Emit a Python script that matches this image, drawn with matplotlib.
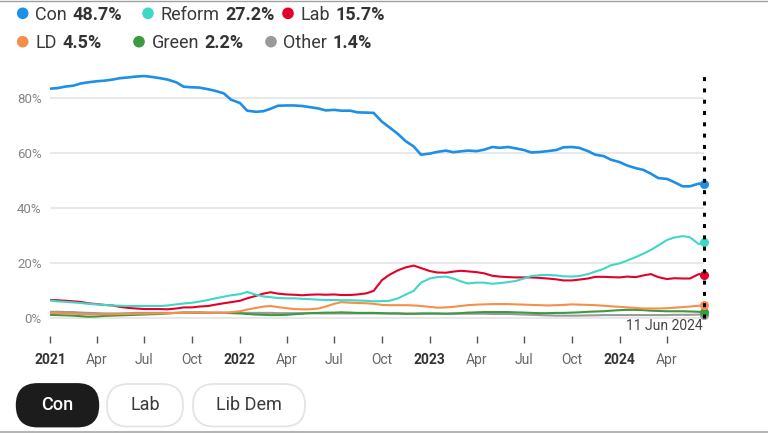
import matplotlib
matplotlib.use("Agg")
import matplotlib.pyplot as plt
from matplotlib.patches import FancyBboxPatch
import pandas as pd

plt.rcParams['font.family'] = ['Roboto', 'DejaVu Sans']

# ---------------- data ----------------
dates = list(pd.date_range('2021-01-01', '2024-06-01', freq='SMS')) + [pd.Timestamp('2024-06-11')]

con = [83.5, 83.7, 84.3, 84.6, 85.4, 85.8, 86.2, 86.4, 86.8, 87.3, 87.6, 87.9, 88.1, 87.8, 87.3, 86.8,
       85.8, 84.2, 84.0, 83.9, 83.3, 82.7, 81.8, 79.5, 78.3, 75.5, 75.1, 75.3, 76.2, 77.3, 77.4, 77.4,
       77.2, 76.8, 76.3, 75.6, 75.8, 75.5, 75.5, 74.9, 74.8, 74.7, 71.5, 69.5, 67.0, 64.5, 62.5, 59.5,
       59.9, 60.5, 61.0, 60.4, 60.7, 61.0, 60.8, 61.3, 62.3, 62.0, 62.3, 61.8, 61.2, 60.3, 60.5, 60.8,
       61.2, 62.2, 62.3, 62.0, 60.8, 59.5, 59.0, 57.7, 56.8, 55.6, 54.6, 54.0, 52.6, 51.0, 50.7, 49.5,
       48.0, 48.0, 49.0, 48.7]
lab = [6.7, 6.6, 6.4, 6.2, 6.0, 5.5, 5.2, 4.9, 4.7, 4.2, 3.8, 3.6, 3.4, 3.4, 3.4, 3.3,
       3.6, 4.0, 4.0, 4.3, 4.5, 5.0, 5.5, 5.9, 6.4, 7.3, 8.2, 9.0, 9.5, 9.0, 8.7, 8.6,
       8.4, 8.6, 8.7, 8.6, 8.7, 8.5, 8.5, 8.7, 9.1, 10.0, 13.9, 15.8, 17.5, 18.5, 19.2, 18.3,
       17.2, 16.7, 16.6, 17.0, 17.3, 17.1, 16.8, 16.4, 15.5, 15.2, 15.0, 14.9, 14.9, 14.9, 14.7, 14.5,
       14.2, 13.8, 13.8, 14.1, 14.5, 15.1, 15.1, 15.0, 14.9, 15.2, 15.0, 15.6, 16.1, 15.0, 14.3, 14.6,
       14.5, 14.5, 16.1, 15.7]
reform = [6.5, 6.2, 6.0, 5.8, 5.6, 5.3, 5.1, 4.9, 4.7, 4.6, 4.5, 4.5, 4.5, 4.5, 4.5, 4.7,
          5.1, 5.4, 5.7, 6.1, 6.7, 7.3, 7.9, 8.4, 8.8, 9.6, 8.6, 8.0, 7.7, 7.4, 7.3, 7.3,
          7.1, 7.0, 6.8, 6.7, 6.7, 6.6, 6.6, 6.5, 6.4, 6.2, 6.3, 6.4, 7.3, 8.6, 10.0, 13.0,
          14.5, 15.0, 15.2, 14.5, 13.5, 12.7, 13.0, 13.0, 12.6, 12.8, 13.2, 13.6, 14.5, 15.4, 15.7, 15.8,
          15.6, 15.3, 15.2, 15.4, 16.1, 17.0, 18.0, 19.3, 20.0, 21.0, 22.3, 23.5, 24.9, 26.5, 28.5, 29.4,
          29.9, 29.5, 27.0, 27.8]
ld = [2.0, 1.9, 1.8, 1.7, 1.6, 1.5, 1.5, 1.5, 1.5, 1.6, 1.6, 1.7, 1.7, 1.8, 1.8, 1.9,
      2.0, 2.0, 2.1, 2.1, 2.0, 2.0, 2.0, 2.2, 2.6, 3.2, 3.8, 4.3, 4.5, 4.1, 3.7, 3.4,
      3.3, 3.3, 3.6, 4.3, 5.3, 5.9, 5.7, 5.6, 5.5, 5.3, 4.9, 4.8, 4.8, 4.8, 4.7, 4.5,
      4.2, 3.9, 4.0, 4.2, 4.5, 4.8, 5.0, 5.1, 5.2, 5.2, 5.2, 5.1, 5.0, 4.9, 4.8, 4.7,
      4.8, 4.9, 5.1, 5.0, 4.9, 4.8, 4.6, 4.4, 4.2, 4.0, 3.8, 3.6, 3.6, 3.6, 3.7, 3.9,
      4.1, 4.3, 4.6, 4.9]
green = [1.3, 1.2, 1.1, 1.0, 0.8, 0.6, 0.7, 0.9, 1.0, 1.1, 1.2, 1.3, 1.4, 1.5, 1.6, 1.8,
         2.0, 2.1, 2.1, 2.1, 2.0, 2.0, 2.0, 1.9, 1.8, 1.6, 1.4, 1.3, 1.2, 1.2, 1.3, 1.5,
         1.7, 1.9, 2.0, 2.1, 2.1, 2.2, 2.1, 2.0, 2.0, 2.0, 1.9, 1.8, 1.8, 1.7, 1.7, 1.8,
         1.8, 1.8, 1.7, 1.8, 1.9, 2.1, 2.2, 2.3, 2.3, 2.3, 2.3, 2.2, 2.1, 2.0, 1.9, 1.9,
         2.0, 2.0, 2.1, 2.2, 2.4, 2.5, 2.6, 2.8, 3.0, 3.1, 3.1, 3.0, 2.8, 2.7, 2.6, 2.6,
         2.6, 2.5, 2.4, 2.2]
other = [2.4, 2.4, 2.3, 2.3, 2.1, 2.0, 1.9, 1.8, 1.8, 1.8, 1.9, 2.0, 2.0, 2.0, 2.0, 2.0,
         2.0, 2.1, 2.1, 2.1, 2.1, 2.1, 2.1, 2.1, 2.0, 2.0, 2.0, 2.0, 2.0, 1.9, 1.9, 1.9,
         1.9, 1.9, 1.8, 1.8, 1.8, 1.8, 1.8, 1.8, 1.8, 1.8, 1.8, 1.8, 1.8, 1.7, 1.7, 1.7,
         1.7, 1.7, 1.7, 1.7, 1.7, 1.7, 1.7, 1.7, 1.6, 1.6, 1.6, 1.5, 1.4, 1.3, 1.2, 1.1,
         1.0, 1.0, 1.0, 1.0, 1.1, 1.1, 1.2, 1.2, 1.2, 1.2, 1.2, 1.2, 1.2, 1.2, 1.2, 1.3,
         1.3, 1.3, 1.4, 1.4]

legend_names = ['Con', 'Reform', 'Lab', 'LD', 'Green', 'Other']
legend_values = ['48.7%', '27.2%', '15.7%', '4.5%', '2.2%', '1.4%']
colors = ['#1d8fe6', '#3fd8c6', '#e3002a', '#f68e4c', '#3d9a40', '#9a9a9a']

tick_dates = ['2021-01-01', '2021-04-01', '2021-07-01', '2021-10-01',
              '2022-01-01', '2022-04-01', '2022-07-01', '2022-10-01',
              '2023-01-01', '2023-04-01', '2023-07-01', '2023-10-01',
              '2024-01-01', '2024-04-01']
tick_labels = ['2021', 'Apr', 'Jul', 'Oct', '2022', 'Apr', 'Jul', 'Oct',
               '2023', 'Apr', 'Jul', 'Oct', '2024', 'Apr']
y_ticks = [0, 20, 40, 60, 80]
y_labels = ['0%', '20%', '40%', '60%', '80%']
end_label = '11 Jun 2024'
buttons = ['Con', 'Lab', 'Lib Dem']

series = [con, reform, lab, ld, green, other]
for s in series:
    assert len(s) == len(dates)

# ---------------- figure ----------------
W, H = 768, 433
fig = plt.figure(figsize=(W / 100, H / 100), dpi=100)
fig.patch.set_facecolor('white')

ax = fig.add_axes([50 / W, (H - 336) / H, 654 / W, 263 / H])
ax.set_xlim(dates[0], dates[-1])
ax.set_ylim(-6.4, 89.2)
for sp in ax.spines.values():
    sp.set_visible(False)

ax.set_yticks(y_ticks)
ax.set_yticklabels(y_labels)
ax.tick_params(axis='y', length=0, pad=6, labelsize=9.5, labelcolor='#858585')
ax.grid(axis='y', color='#e2e2e2', lw=1.1)
ax.set_axisbelow(True)

ax.set_xticks(pd.to_datetime(tick_dates))
ax.set_xticklabels(tick_labels)
ax.tick_params(axis='x', direction='out', length=5, width=1, color='#555555',
               pad=7, labelsize=10, labelcolor='#666666')
for lbl in ax.get_xticklabels():
    if lbl.get_text().isdigit():
        lbl.set_fontweight('bold')
        lbl.set_color('#333333')

# draw order: minor first, Con on top
order = [5, 4, 3, 1, 2, 0]
for i in order:
    lw = 1.9 if i == 0 else 1.5
    ax.plot(dates, series[i], color=colors[i], lw=lw, solid_joinstyle='round', zorder=3 + (6 - i) * 0.1)
for i in order:
    ax.plot([dates[-1]], [series[i][-1]], 'o', color=colors[i], ms=5.5, clip_on=False, zorder=5)

ax.vlines(dates[-1], 0, 89.2, colors='black', linestyles=(0, (1.3, 2.4)), lw=2.2, zorder=6, clip_on=False)
ax.annotate(end_label, xy=(dates[-1], 0), xytext=(-1, -5.5), textcoords='offset points',
            ha='right', va='center', fontsize=10, color='#444444')

# ---------------- overlay (legend, buttons, frame lines) ----------------
ov = fig.add_axes([0, 0, 1, 1], zorder=-1)
ov.set_xlim(0, W)
ov.set_ylim(H, 0)
ov.axis('off')

ov.plot([0, W], [0.5, 0.5], color='#a0a0a0', lw=1.0)
ov.plot([0, W], [432, 432], color='#b5b5b5', lw=1.5)

renderer = fig.canvas.get_renderer()
leg_pos = [(22.7, 13.3), (148, 13.3), (288, 13.3), (22.7, 41.7), (139, 41.7), (271, 41.7)]
for (x, y), name, val, c in zip(leg_pos, legend_names, legend_values, colors):
    ov.scatter([x], [y], s=70, color=c, edgecolors='none')
    t = ov.text(x + 12.5, y + 6.3, name, fontsize=13, color='#3a3a3a', va='baseline', ha='left')
    bb = t.get_window_extent(renderer=renderer)
    x_end = bb.x1 * W / fig.bbox.width
    ov.text(x_end + 5.5, y + 6.3, val, fontsize=13, fontweight='bold', color='#333333',
            va='baseline', ha='left')

pill_x = [(16.7, 98.3), (107, 183), (193, 305)]
for (x0, x1), name, k in zip(pill_x, buttons, range(3)):
    active = k == 0
    p = FancyBboxPatch((x0, 384), x1 - x0, 42.5,
                       boxstyle='round,pad=0,rounding_size=21',
                       facecolor='#1c1c1c' if active else 'white',
                       edgecolor='#1c1c1c' if active else '#e4e4e4', lw=1.3)
    ov.add_patch(p)
    ov.text((x0 + x1) / 2, 405.5, name, fontsize=13, ha='center', va='center',
            color='white' if active else '#3a3a3a',
            fontweight='medium' if active else 'normal')

fig.savefig('out.png', dpi=100)
